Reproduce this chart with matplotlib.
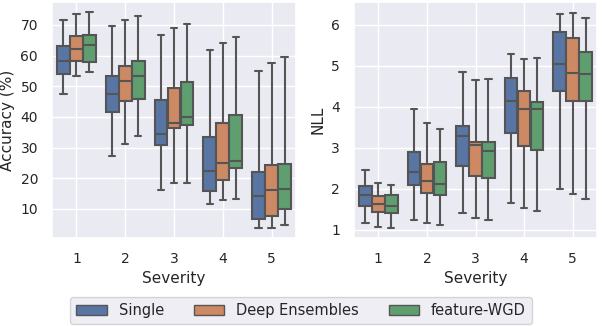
import matplotlib
matplotlib.use("Agg")
import matplotlib.pyplot as plt
import seaborn as sns
from matplotlib.patches import Patch

sns.set_theme(style="darkgrid")
plt.rcParams['font.family'] = ['DejaVu Sans']

severities = ["1", "2", "3", "4", "5"]
methods = ["Single", "Deep Ensembles", "feature-WGD"]
colors = ["#5875A4", "#CC8963", "#5F9E6E"]

# Accuracy (%) box statistics per method: [whislo, q1, med, q3, whishi] for each severity
acc_single = [[47.4, 53.9, 58.1, 63.1, 71.7], [27.1, 41.6, 47.4, 53.2, 69.7],
              [16.3, 31.0, 34.4, 45.5, 66.8], [11.7, 15.8, 22.5, 33.6, 61.7],
              [3.8, 6.8, 14.2, 21.9, 54.9]]
acc_de = [[53.2, 58.2, 62.1, 66.3, 73.5], [31.2, 45.1, 51.7, 56.5, 71.6],
          [18.3, 36.4, 37.9, 49.3, 68.9], [12.9, 19.4, 25.0, 37.9, 64.1],
          [3.8, 7.7, 16.3, 24.2, 57.6]]
acc_wgd = [[54.7, 58.0, 63.4, 66.8, 74.4], [33.9, 45.9, 53.3, 58.1, 72.9],
           [18.6, 37.3, 40.1, 51.4, 70.2], [13.2, 23.5, 25.5, 40.6, 66.0],
           [4.9, 9.8, 16.6, 24.7, 59.5]]

# NLL box statistics
nll_single = [[1.17, 1.58, 1.84, 2.07, 2.46], [1.25, 2.10, 2.40, 2.89, 3.94],
              [1.41, 2.55, 3.29, 3.53, 4.85], [1.66, 3.36, 4.14, 4.71, 5.28],
              [1.99, 4.37, 5.04, 5.81, 6.25]]
nll_de = [[1.06, 1.43, 1.62, 1.83, 2.13], [1.16, 1.89, 2.18, 2.61, 3.61],
          [1.29, 2.31, 3.06, 3.15, 4.66], [1.52, 3.05, 3.94, 4.39, 5.15],
          [1.87, 4.15, 4.83, 5.68, 6.27]]
nll_wgd = [[1.04, 1.41, 1.58, 1.85, 2.08], [1.12, 1.84, 2.12, 2.64, 3.46],
           [1.25, 2.26, 2.91, 3.13, 4.68], [1.46, 2.94, 3.94, 4.12, 5.19],
           [1.76, 4.15, 4.80, 5.33, 6.16]]

line_col = "#555555"


def draw(ax, series, ylabel):
    n = len(series)
    w = 0.8 / n
    for j, (data, col) in enumerate(zip(series, colors)):
        stats = []
        for s in data:
            stats.append(dict(whislo=s[0], q1=s[1], med=s[2], q3=s[3], whishi=s[4]))
        pos = [i - 0.4 + w * (j + 0.5) for i in range(len(severities))]
        ax.bxp(stats, positions=pos, widths=w * 0.98, showfliers=False,
               patch_artist=True, manage_ticks=False,
               boxprops=dict(facecolor=col, edgecolor=line_col, linewidth=1.5),
               medianprops=dict(color=line_col, linewidth=1.5),
               whiskerprops=dict(color=line_col, linewidth=1.5),
               capprops=dict(color=line_col, linewidth=1.5))
    ax.set_xticks(range(len(severities)))
    ax.set_xticklabels(severities)
    ax.set_xlim(-0.5, len(severities) - 0.5)
    ax.set_xlabel("Severity", fontsize=11)
    ax.set_ylabel(ylabel, fontsize=11)
    ax.tick_params(labelsize=10, pad=4)


fig = plt.figure(figsize=(6.02, 3.26), dpi=100)
ax1 = fig.add_axes([52 / 602, 1 - 238 / 326, 244 / 602, 236 / 326])
ax2 = fig.add_axes([354 / 602, 1 - 238 / 326, 243 / 602, 236 / 326])
draw(ax1, [acc_single, acc_de, acc_wgd], "Accuracy (%)")
draw(ax2, [nll_single, nll_de, nll_wgd], "NLL")
ax1.set_ylim(0.5, 77.5)
ax1.set_yticks([10, 20, 30, 40, 50, 60, 70])
ax2.set_ylim(0.8, 6.55)
ax2.set_yticks([1, 2, 3, 4, 5, 6])

handles = [Patch(facecolor=c, edgecolor=line_col, linewidth=1.0) for c in colors]
fig.legend(handles, methods, loc="center", bbox_to_anchor=(301 / 602, 1 - 310.5 / 326),
           ncol=3, fontsize=10.5, frameon=True, columnspacing=2.05,
           handlelength=2.1, handleheight=0.65, handletextpad=0.8, borderpad=0.4)

fig.savefig("out.png", dpi=100)
